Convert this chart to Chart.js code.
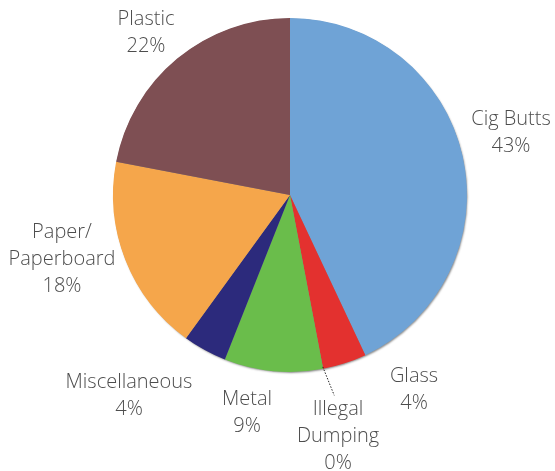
<!DOCTYPE html>
<html>
<head>
<meta charset="utf-8">
<script src="https://cdn.jsdelivr.net/npm/chart.js@4.4.1/dist/chart.umd.min.js"></script>
<style>
  html, body { margin: 0; padding: 0; background: #fff; }
  #wrap { width: 555px; height: 471px; position: relative; }
</style>
</head>
<body>
<div id="wrap"><canvas id="pie"></canvas></div>
<script>
// litter composition, clockwise from 12 o'clock
var categories = ['Cig Butts', 'Glass', 'Illegal Dumping', 'Metal', 'Miscellaneous', 'Paper/Paperboard', 'Plastic'];
var shares = [43, 4, 0, 9, 4, 18, 22];
var labelLines = [['Cig Butts'], ['Glass'], ['Illegal', 'Dumping'], ['Metal'], ['Miscellaneous'], ['Paper/', 'Paperboard'], ['Plastic']];
var sliceColors = ['#6fa3d6', '#e3312f', '#e3312f', '#6abd4b', '#2c2a7c', '#f5a64b', '#7e4f53'];

// where each label block sits, relative to the pie centre (first line)
var labelOffsets = [[221, -76], [124, 181], [48, 214], [-43, 204], [-161, 187], [-228, 37], [-144, -176]];
var lineGap = 27;

var labelPlugin = {
  id: 'sliceLabels',
  beforeDatasetsDraw: function(chart) {
    // soft edge shadow behind the pie
    var arc = chart.getDatasetMeta(0).data[0];
    var ctx = chart.ctx;
    ctx.save();
    ctx.shadowColor = 'rgba(0,0,0,0.45)';
    ctx.shadowBlur = 2;
    ctx.shadowOffsetX = 1;
    ctx.shadowOffsetY = 1.5;
    ctx.fillStyle = '#888';
    ctx.beginPath();
    ctx.arc(arc.x, arc.y, arc.outerRadius - 0.5, 0, Math.PI * 2);
    ctx.fill();
    ctx.restore();
  },
  afterDatasetsDraw: function(chart) {
    var meta = chart.getDatasetMeta(0);
    var ctx = chart.ctx;
    var cx = meta.data[0].x, cy = meta.data[0].y;

    // dotted leader for the zero slice
    var zero = meta.data[2];
    var a = zero.startAngle;
    var r = zero.outerRadius;
    ctx.save();
    ctx.strokeStyle = '#222';
    ctx.lineWidth = 1;
    ctx.setLineDash([1.5, 1.5]);
    ctx.beginPath();
    ctx.moveTo(cx + Math.cos(a) * (r - 2), cy + Math.sin(a) * (r - 2));
    ctx.lineTo(cx + Math.cos(a) * (r + 27) + 6, cy + Math.sin(a) * (r + 27));
    ctx.stroke();
    ctx.restore();

    ctx.save();
    ctx.font = '300 20px "Open Sans", "Liberation Sans", sans-serif';
    ctx.fillStyle = '#4d4d4d';
    ctx.textAlign = 'center';
    ctx.textBaseline = 'middle';
    for (var i = 0; i < categories.length; i++) {
      var lines = labelLines[i].concat([shares[i] + '%']);
      var x = cx + labelOffsets[i][0];
      var y = cy + labelOffsets[i][1];
      for (var j = 0; j < lines.length; j++) {
        ctx.fillText(lines[j], x, y + j * lineGap);
      }
    }
    ctx.restore();
  }
};

new Chart(document.getElementById('pie'), {
  type: 'pie',
  data: {
    labels: categories,
    datasets: [{
      data: shares,
      backgroundColor: sliceColors,
      borderWidth: 0
    }]
  },
  options: {
    responsive: true,
    maintainAspectRatio: false,
    animation: false,
    layout: { padding: { left: 113, right: 88, top: 18, bottom: 99 } },
    plugins: {
      legend: { display: false },
      tooltip: { enabled: false }
    }
  },
  plugins: [labelPlugin]
});
</script>
</body>
</html>
